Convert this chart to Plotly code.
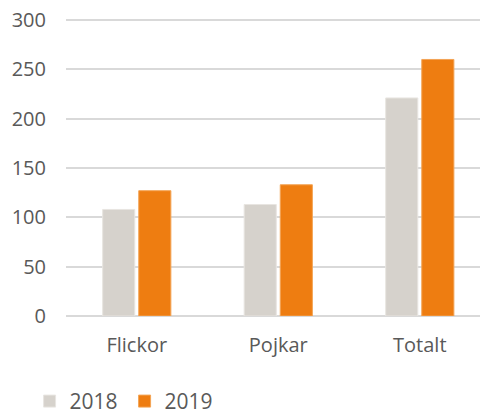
import plotly.graph_objects as go

categories = ["Flickor", "Pojkar", "Totalt"]
values_2018 = [108, 113, 221]
values_2019 = [127, 133, 260]
y_ticks = [0, 50, 100, 150, 200, 250, 300]

font_family = "Open Sans, Noto Sans, sans-serif"
text_color = "#595959"

fig = go.Figure()
fig.add_trace(go.Bar(name="2018", x=categories, y=values_2018,
                     marker=dict(color="#D6D2CC", line=dict(color="#E8E5E1", width=1))))
fig.add_trace(go.Bar(name="2019", x=categories, y=values_2019,
                     marker=dict(color="#EE7D11", line=dict(color="#F3A455", width=1))))

# page body has an 8px margin, so the figure is 480x406 offset by 8px
fig.update_layout(
    width=480, height=406,
    margin=dict(l=58, r=0, t=4, b=98, autoexpand=False),
    plot_bgcolor="white", paper_bgcolor="white",
    barmode="group", bargap=0.49, bargroupgap=0.11,
    font=dict(family=font_family, color=text_color, size=20),
    showlegend=True,
    legend=dict(orientation="h", x=-0.0863, xanchor="left", y=-0.2811, yanchor="middle",
                font=dict(size=21, color=text_color), itemwidth=30, entrywidth=50,
                traceorder="normal"),
    xaxis=dict(range=[-0.5, 2.482], showgrid=False, showline=False, ticks="",
               automargin=False, tickfont=dict(size=20, color=text_color)),
    yaxis=dict(range=[0, 308.1], tickvals=y_ticks, showgrid=True, gridcolor="#D9D9D9",
               gridwidth=1.5, zeroline=True, zerolinecolor="#D9D9D9", zerolinewidth=1.5,
               automargin=False, showline=False, ticks="", ticklen=0,
               ticklabeloverflow="allow",
               tickfont=dict(size=20, color=text_color)),
)
fig.update_yaxes(ticklabelstandoff=19)
fig.update_xaxes(ticklabelstandoff=15)

fig.write_html("out.html")
